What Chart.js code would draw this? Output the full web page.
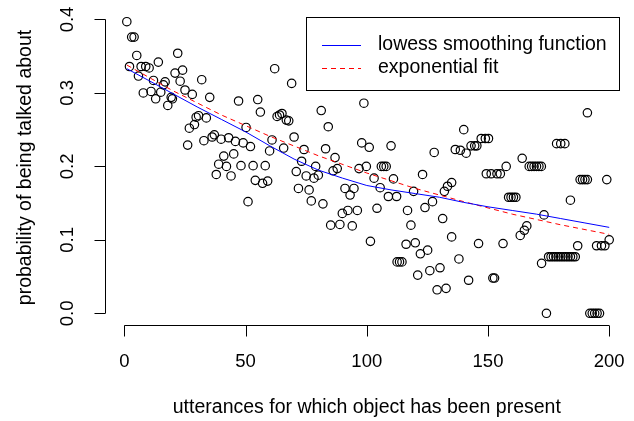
<!DOCTYPE html>
<html>
<head>
<meta charset="utf-8">
<script src="https://cdn.jsdelivr.net/npm/chart.js@4.4.1/dist/chart.umd.min.js"></script>
<style>
  html, body { margin: 0; padding: 0; background: #fff; }
  #grafico { display: block; }
</style>
</head>
<body>
<canvas id="grafico" width="634" height="421"></canvas>
<script>
// puntos observados (x = utterances, y = probabilidad)
const utterX = [1.0, 2.1, 3.0, 4.0, 5.1, 5.8, 6.9, 7.8, 8.8, 10.2, 11.0, 12.0, 12.9, 14.0, 15.0, 16.1, 16.8, 17.9, 19.3, 19.8,
  20.9, 22.0, 23.0, 24.0, 25.0, 26.1, 26.8, 28.0, 28.9, 29.6, 30.6, 31.9, 32.8, 33.8, 35.2, 36.2, 37.1, 37.9, 38.9, 39.9,
  41.0, 42.1, 43.0, 44.0, 45.1, 45.8, 47.1, 48.1, 49.0, 50.2, 51.0, 52.0, 53.1, 54.0, 55.0, 56.1, 57.0, 58.1, 59.1, 59.9,
  60.9, 62.0, 63.0, 64.0, 65.0, 65.7, 66.8, 67.8, 69.0, 70.0, 70.9, 71.8, 73.1, 74.1, 75.0, 76.2, 77.1, 78.2, 78.9, 80.0,
  81.2, 81.9, 83.0, 84.1, 85.1, 86.1, 86.9, 87.8, 88.9, 89.9, 91.0, 92.2, 93.1, 94.0, 94.7, 96.1, 96.8, 97.9, 98.8, 99.8,
  101.0, 101.5, 103.0, 104.2, 105.5, 106.0, 107.0, 108.0, 108.9, 110.0, 111.0, 112.5, 112.3, 113.5, 114.5, 116.2, 116.8, 118.2, 119.3, 120.0,
  121.0, 122.1, 123.0, 124.0, 125.1, 126.0, 127.1, 127.8, 129.0, 130.2, 131.3, 132.0, 132.7, 133.3, 135.0, 135.0, 136.5, 138.0, 138.6, 140.0,
  141.0, 142.0, 143.0, 144.5, 145.4, 146.1, 147.2, 148.9, 149.3, 150.2, 151.3, 152.0, 152.7, 153.7, 155.1, 156.2, 157.5, 158.5, 159.5, 160.5,
  161.5, 163.3, 164.1, 165.0, 166.0, 167.0, 168.0, 169.0, 170.0, 171.0, 172.0, 172.1, 173.1, 174.1, 175.0, 176.0, 177.0, 178.0, 179.0, 180.0,
  181.0, 182.0, 183.0, 184.0, 185.0, 186.0, 178.3, 180.0, 181.7, 184.0, 187.0, 188.0, 189.0, 190.0, 191.0, 191.0, 192.0, 193.0, 194.0, 195.0,
  196.0, 194.8, 196.8, 198.2, 199.0, 200.0];
const utterY = [0.397, 0.336, 0.376, 0.376, 0.351, 0.323, 0.336, 0.300, 0.336, 0.334, 0.302, 0.317, 0.292, 0.342, 0.301, 0.311, 0.315, 0.283, 0.294, 0.292,
  0.327, 0.354, 0.316, 0.331, 0.304, 0.229, 0.252, 0.298, 0.257, 0.267, 0.269, 0.318, 0.235, 0.266, 0.294, 0.240, 0.243, 0.189, 0.203, 0.237,
  0.214, 0.200, 0.239, 0.187, 0.217, 0.234, 0.289, 0.201, 0.232, 0.253, 0.152, 0.227, 0.201, 0.181, 0.291, 0.274, 0.177, 0.201, 0.180, 0.221,
  0.236, 0.333, 0.268, 0.270, 0.272, 0.225, 0.263, 0.262, 0.313, 0.240, 0.193, 0.170, 0.207, 0.223, 0.187, 0.168, 0.153, 0.184, 0.200, 0.188,
  0.276, 0.149, 0.224, 0.254, 0.120, 0.194, 0.212, 0.197, 0.121, 0.136, 0.170, 0.140, 0.161, 0.119, 0.170, 0.140, 0.197, 0.232, 0.286, 0.200,
  0.226, 0.098, 0.184, 0.143, 0.171, 0.200, 0.200, 0.200, 0.159, 0.228, 0.183, 0.070, 0.159, 0.070, 0.070, 0.094, 0.140, 0.120, 0.166, 0.096,
  0.052, 0.081, 0.189, 0.144, 0.086, 0.058, 0.152, 0.219, 0.032, 0.062, 0.129, 0.166, 0.034, 0.173, 0.178, 0.104, 0.223, 0.074, 0.222, 0.250,
  0.218, 0.045, 0.228, 0.228, 0.228, 0.095, 0.238, 0.238, 0.190, 0.238, 0.190, 0.048, 0.048, 0.190, 0.190, 0.095, 0.200, 0.158, 0.158, 0.158,
  0.158, 0.106, 0.211, 0.113, 0.119, 0.200, 0.200, 0.200, 0.200, 0.200, 0.200, 0.068, 0.134, 0.000, 0.077, 0.077, 0.077, 0.077, 0.077, 0.077,
  0.077, 0.077, 0.077, 0.077, 0.077, 0.077, 0.231, 0.231, 0.231, 0.154, 0.092, 0.182, 0.182, 0.182, 0.182, 0.273, 0.000, 0.000, 0.000, 0.000,
  0.000, 0.092, 0.092, 0.092, 0.182, 0.100];

// curva lowess
const lowessX = [1, 10, 20, 30, 40, 50, 60, 70, 80, 90, 100, 110, 120, 130, 140, 150, 160, 170, 180, 190, 200];
const lowessY = [0.333, 0.317, 0.299, 0.281, 0.264, 0.247, 0.228, 0.210, 0.195, 0.184, 0.174, 0.168, 0.163, 0.158, 0.151, 0.145, 0.140, 0.135, 0.129, 0.123, 0.117];

// ajuste exponencial
const expX = [1, 20, 40, 60, 80, 100, 120, 140, 160, 180, 200];
const expY = [0.338, 0.303, 0.270, 0.241, 0.2145, 0.191, 0.170, 0.152, 0.135, 0.1205, 0.1075];

// ejes
const xTicks = [0, 50, 100, 150, 200];
const yTicks = [0, 0.1, 0.2, 0.3, 0.4];
const yTickLabels = ["0.0", "0.1", "0.2", "0.3", "0.4"];

const FUENTE_TICKS = '18.5px "Liberation Sans", Arial, Helvetica, sans-serif';
const FUENTE = '19.5px "Liberation Sans", Arial, Helvetica, sans-serif';

// ejes estilo R + leyenda
const ejesR = {
    id: "ejesR",
    afterDraw(chart) {
        let c = chart.ctx;
        let xs = chart.scales.x;
        let ys = chart.scales.y;
        let area = chart.chartArea;
        c.save();
        c.strokeStyle = "#000";
        c.fillStyle = "#000";
        c.lineWidth = 1;
        c.textAlign = "center";
        c.textBaseline = "middle";

        // eje x
        let yb = Math.round(area.bottom) + 0.5;
        c.beginPath();
        c.moveTo(xs.getPixelForValue(xTicks[0]), yb);
        c.lineTo(xs.getPixelForValue(xTicks[xTicks.length - 1]), yb);
        xTicks.forEach(t => {
            let px = Math.round(xs.getPixelForValue(t)) + 0.5;
            c.moveTo(px, yb);
            c.lineTo(px, yb + 11);
        });
        c.stroke();
        c.font = FUENTE_TICKS;
        xTicks.forEach(t => c.fillText(String(t), xs.getPixelForValue(t), 362));
        c.font = FUENTE;
        c.fillText("utterances for which object has been present", (area.left + area.right) / 2, 408);

        // eje y
        let xl = Math.round(area.left) + 0.5;
        c.beginPath();
        c.moveTo(xl, ys.getPixelForValue(yTicks[0]));
        c.lineTo(xl, ys.getPixelForValue(yTicks[yTicks.length - 1]));
        yTicks.forEach(t => {
            let py = Math.round(ys.getPixelForValue(t)) + 0.5;
            c.moveTo(xl, py);
            c.lineTo(xl - 11, py);
        });
        c.stroke();
        c.font = FUENTE_TICKS;
        yTicks.forEach((t, i) => {
            c.save();
            c.translate(68, ys.getPixelForValue(t));
            c.rotate(-Math.PI / 2);
            c.fillText(yTickLabels[i], 0, 0);
            c.restore();
        });
        c.font = FUENTE;
        c.save();
        c.translate(26, (area.top + area.bottom) / 2);
        c.rotate(-Math.PI / 2);
        c.fillText("probability of being talked about", 0, 0);
        c.restore();

        // leyenda
        c.strokeRect(306.5, 17.5, 313, 73);
        c.textAlign = "left";
        c.strokeStyle = "#0000ff";
        c.beginPath();
        c.moveTo(322, 45.5);
        c.lineTo(361, 45.5);
        c.stroke();
        c.strokeStyle = "#ff0000";
        c.setLineDash([5, 4]);
        c.beginPath();
        c.moveTo(322, 68.5);
        c.lineTo(361, 68.5);
        c.stroke();
        c.setLineDash([]);
        c.fillText("lowess smoothing function", 378, 45);
        c.fillText("exponential fit", 378, 68);
        c.restore();
    }
};

let ctx = document.getElementById("grafico").getContext("2d");

new Chart(ctx, {
    type: "scatter",
    data: {
        datasets: [
            {
                label: "lowess smoothing function",
                type: "line",
                data: lowessX.map((x, i) => ({ x: x, y: lowessY[i] })),
                borderColor: "#0000ff",
                borderWidth: 1,
                pointRadius: 0,
                fill: false,
                tension: 0,
                order: 0
            },
            {
                label: "exponential fit",
                type: "line",
                data: expX.map((x, i) => ({ x: x, y: expY[i] })),
                borderColor: "#ff0000",
                borderDash: [5, 4],
                borderWidth: 1,
                pointRadius: 0,
                fill: false,
                tension: 0,
                order: 0
            },
            {
                label: "datos",
                data: utterX.map((x, i) => ({ x: x, y: utterY[i] })),
                pointStyle: "circle",
                pointRadius: 4.2,
                borderWidth: 1.2,
                borderColor: "#000",
                backgroundColor: "rgba(0,0,0,0)",
                order: 1
            }
        ]
    },
    options: {
        responsive: false,
        animation: false,
        events: [],
        layout: { padding: { left: 105, right: 5, top: 10, bottom: 96 } },
        scales: {
            x: { type: "linear", min: -8, max: 208, display: false },
            y: { type: "linear", min: -0.0159, max: 0.4129, display: false }
        },
        plugins: {
            legend: { display: false },
            tooltip: { enabled: false }
        }
    },
    plugins: [ejesR]
});
</script>
</body>
</html>
